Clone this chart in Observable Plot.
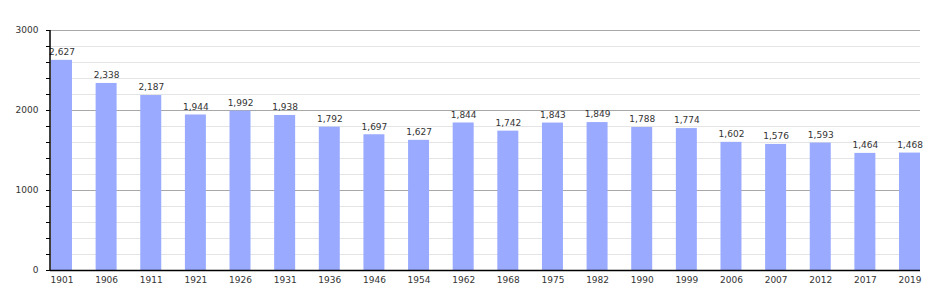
<!DOCTYPE html>
<html><head><meta charset="utf-8">
<script src="https://cdn.jsdelivr.net/npm/d3@7"></script>
<script src="https://cdn.jsdelivr.net/npm/@observablehq/plot@0.6"></script>
<style>body{margin:0;background:#fff;} svg{display:block;}</style>
</head><body><div id="chart"></div>
<script>
const years = ["1901","1906","1911","1921","1926","1931","1936","1946","1954","1962","1968","1975","1982","1990","1999","2006","2007","2012","2017","2019"];
const population = [2627,2338,2187,1944,1992,1938,1792,1697,1627,1844,1742,1843,1849,1788,1774,1602,1576,1593,1464,1468];
const majorTicks = [0,1000,2000,3000];
const minorTicks = d3.range(0, 3001, 200);

const data = years.map((y,i)=>({year:y, value:population[i]}));
const fmt = d3.format(",");

const leftLine = (index, scales, values, dims) => {
  const g = d3.create("svg:line")
    .attr("x1", dims.marginLeft).attr("x2", dims.marginLeft)
    .attr("y1", dims.marginTop).attr("y2", dims.height - dims.marginBottom)
    .attr("stroke", "#000").attr("stroke-width", 1.5);
  return g.node();
};

const chart = Plot.plot({
  width: 950, height: 300,
  marginLeft: 50, marginRight: 30, marginTop: 30, marginBottom: 30,
  style: {fontFamily: "DejaVu Sans", fontSize: "9px", color: "#333", background: "#fff"},
  x: {domain: years, paddingInner: 0.53, paddingOuter: 0, range: [51, 920], round: false, label: null},
  y: {domain: [0, 3000], label: null},
  marks: [
    Plot.ruleY(minorTicks.filter(d => d % 1000 !== 0), {stroke: "#e4e4e4", strokeOpacity: 1}),
    Plot.ruleY(majorTicks.filter(d => d > 0), {stroke: "#a8a8a8", strokeOpacity: 1}),
    Plot.barY(data, {x: "year", y: "value", fill: "#99aaff"}),
    Plot.text(data, {x: "year", y: "value", text: d => fmt(d.value), dy: -8, fill: "#333", fontSize: 9}),
    Plot.axisY({ticks: minorTicks, tickSize: 4, tickFormat: () => "", stroke: "#000"}),
    Plot.axisY({ticks: majorTicks, tickSize: 0, tickPadding: 12, tickFormat: d => String(d), fontSize: 9, fill: "#333"}),
    Plot.axisX({tickSize: 0, tickPadding: 6, fontSize: 9, fill: "#333"}),
    Plot.ruleY([0], {stroke: "#000", strokeWidth: 1.5}),
    leftLine
  ]
});
document.getElementById("chart").appendChild(chart);
</script>
</body></html>
